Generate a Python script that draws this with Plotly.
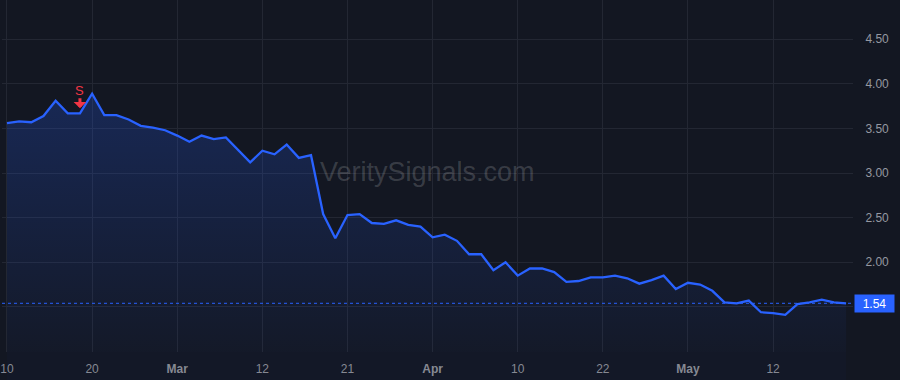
import plotly.graph_objects as go
import pandas as pd

# ---- data ----
holidays = ["2025-02-17", "2025-04-18"]
dates = [d.strftime("%Y-%m-%d") for d in pd.bdate_range("2025-02-10", "2025-05-20")
         if d.strftime("%Y-%m-%d") not in holidays]

prices = [3.56, 3.58, 3.57, 3.64, 3.81, 3.67, 3.67, 3.89, 3.65, 3.65,
          3.60, 3.53, 3.51, 3.48, 3.42, 3.35, 3.42, 3.38, 3.40, 3.26,
          3.12, 3.25, 3.21, 3.32, 3.17, 3.20, 2.54, 2.27, 2.53, 2.54,
          2.44, 2.43, 2.47, 2.42, 2.40, 2.28, 2.31, 2.24, 2.09, 2.09,
          1.91, 2.00, 1.85, 1.93, 1.93, 1.89, 1.78, 1.79, 1.83, 1.83,
          1.85, 1.82, 1.76, 1.80, 1.85, 1.70, 1.77, 1.75, 1.68, 1.55,
          1.54, 1.57, 1.44, 1.43, 1.41, 1.53, 1.55, 1.58, 1.55, 1.54]

signal_dates = ["2025-02-19"]
signal_labels = ["S"]

tick_dates = ["2025-02-10", "2025-02-20", "2025-03-03", "2025-03-12", "2025-03-21",
              "2025-04-01", "2025-04-10", "2025-04-22", "2025-05-01", "2025-05-12"]
tick_labels = ["10", "20", "<b>Mar</b>", "12", "21", "<b>Apr</b>", "10", "22", "<b>May</b>", "12"]

y_ticks = [1.5, 2.0, 2.5, 3.0, 3.5, 4.0, 4.5]
y_tick_labels = ["", "2.00", "2.50", "3.00", "3.50", "4.00", "4.50"]

watermark = "VeritySignals.com"

# ---- styles ----
BG = "#131722"
GRID = "#232733"
BLUE = "#2962ff"
RED = "#f23645"
FONT = "Liberation Sans, Arial, sans-serif"

idx = list(range(len(dates)))
tickvals = [dates.index(d) for d in tick_dates]
last = prices[-1]

fig = go.Figure()
fig.add_trace(go.Scatter(
    x=idx, y=prices, mode="lines",
    line=dict(color=BLUE, width=2.3),
    fill="tozeroy",
    fillgradient=dict(type="vertical", start=1.0, stop=3.9,
                      colorscale=[[0, "rgba(41,98,255,0.03)"], [1, "rgba(41,98,255,0.23)"]]),
    hoverinfo="skip", showlegend=False,
))

annotations = []
for d, lab in zip(signal_dates, signal_labels):
    i = dates.index(d)
    annotations.append(dict(
        x=i, y=prices[i], xref="x", yref="y", text=lab, showarrow=True,
        arrowhead=1, arrowsize=0.7, arrowwidth=3, arrowcolor=RED,
        ax=0, ay=-23, standoff=5, borderpad=0,
        font=dict(color=RED, size=13, family=FONT),
    ))

annotations.append(dict(
    x=0.5, y=0.51, xref="paper", yref="paper", text=watermark, showarrow=False,
    font=dict(size=27, color="rgba(255,255,255,0.17)", family=FONT),
))

annotations.append(dict(
    x=1, y=last, xref="paper", yref="y", xanchor="left", yanchor="middle",
    xshift=1, text=f"{last:.2f}", showarrow=False, bgcolor=BLUE,
    width=39, height=17, borderpad=0,
    font=dict(color="white", size=12, family=FONT),
))

fig.update_layout(
    width=900, height=380,
    margin=dict(l=0, r=47, t=0, b=28),
    paper_bgcolor=BG, plot_bgcolor=BG,
    font=dict(family=FONT),
    annotations=annotations,
    shapes=[
        dict(type="line", xref="paper", x0=0, x1=1, yref="y", y0=last, y1=last,
             line=dict(color=BLUE, width=1, dash="dot")),
        dict(type="rect", xref="x", x0=idx[0], x1=idx[-1], yref="paper", y0=-0.08, y1=0,
             fillcolor="rgba(41,98,255,0.025)", line=dict(width=0), layer="below"),
    ],
    xaxis=dict(
        range=[-0.41, idx[-1] + 0.57],
        tickvals=tickvals, ticktext=tick_labels,
        showgrid=True, gridcolor=GRID, gridwidth=1,
        zeroline=False, showline=False,
        ticks="outside", ticklen=6, tickcolor="rgba(0,0,0,0)",
        ticklabeloverflow="allow",
        tickfont=dict(color="#868993", size=12, family=FONT),
    ),
    yaxis=dict(
        side="right",
        range=[0.994, 4.94],
        tickvals=y_ticks, ticktext=y_tick_labels,
        showgrid=True, gridcolor=GRID, gridwidth=1,
        zeroline=False, showline=False,
        ticks="outside", ticklen=9, tickcolor="rgba(0,0,0,0)",
        tickfont=dict(color="#9598a1", size=12, family=FONT),
    ),
)

fig.write_html("out.html")
